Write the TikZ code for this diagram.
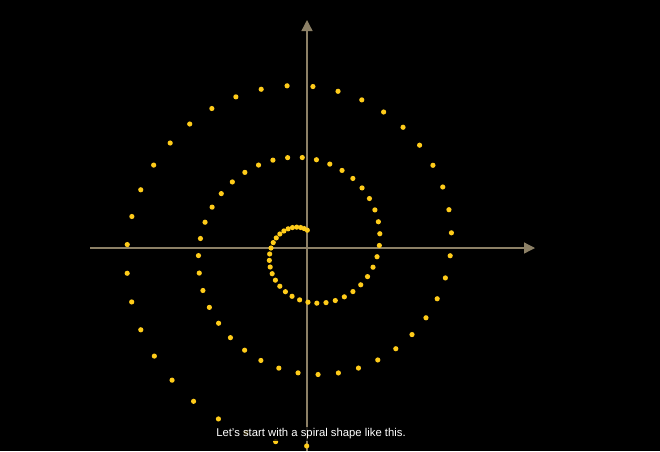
\documentclass[tikz,border=0pt]{standalone}
\usepackage{fontspec}
\setsansfont{Liberation Sans}
\usetikzlibrary{arrows.meta, calc}
\definecolor{axisgray}{HTML}{8C8066}
\definecolor{dotyellow}{HTML}{FFCC1A}

\begin{document}
\begin{tikzpicture}[x=1pt, y=-1pt,
  axis/.style={axisgray, line width=1.3pt},
  axarr/.style={axis, -{Triangle[length=11pt, width=11pt]}},
  dot/.style={circle, fill=dotyellow, inner sep=0pt, minimum size=5.2pt},
  caption/.style={font=\fontsize{11.3}{13}\selectfont\sffamily, text=white,
                  fill=black, fill opacity=0.8, text opacity=1, inner sep=2pt},
]
  %% ── Canvas ──────────────────────────────────────────────────────────────
  \fill[black] (0,0) rectangle (660,451);
  \useasboundingbox (0,0) rectangle (660,451);

  %% ── Axes ────────────────────────────────────────────────────────────────
  \coordinate (o)  at (307,248);
  \coordinate (xl) at (90,248);
  \coordinate (xr) at (535,248);
  \coordinate (yt) at (307,20);
  \coordinate (yb) at (307,451);

  \draw[axarr] (xl) -- (xr);
  \draw[axarr] (yb) -- (yt);

  %% ── Spiral dots: r = theta/5, 9.1 degree steps ─────────────────────────
  \foreach \i in {0,...,99} {
    \pgfmathsetmacro{\ang}{89+9.1*\i}
    \node[dot] (d\i) at ($(o)+(-\ang:\ang/5)$) {};
  }

  %% ── Caption ─────────────────────────────────────────────────────────────
  \node[caption] (cap) at (311,434) {Let's start with a spiral shape like this.};

\end{tikzpicture}
\end{document}
